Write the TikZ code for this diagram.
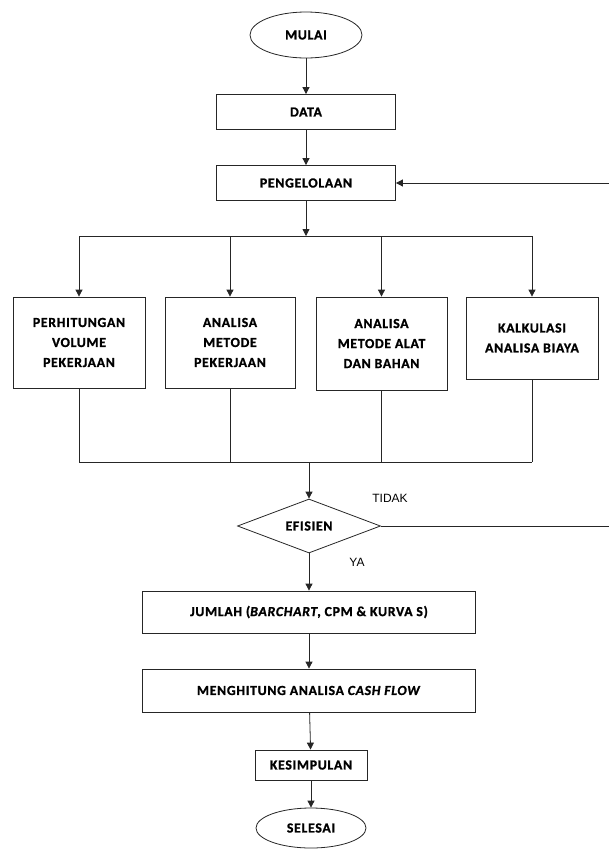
\documentclass[tikz,border=0pt]{standalone}
\usepackage{fontspec}
\setmainfont{Carlito}[LetterSpace=5, BoldFeatures={FakeBold=1.2}, BoldItalicFeatures={FakeBold=1.2}]
\newfontfamily\lblfont{Liberation Sans}
\usetikzlibrary{shapes.geometric,arrows.meta}
\begin{document}
\begin{tikzpicture}[x=1pt,y=-1pt,
  line width=0.8pt,
  every node/.style={font=\bfseries\fontsize{13.8}{20}\selectfont, text=black},
  box/.style={draw=black!85, rectangle, inner sep=0pt, align=center},
  oval/.style={draw=black!85, ellipse, inner sep=0pt},
  dec/.style={draw=black!85, diamond, aspect=2.65, inner sep=0pt, minimum width=143pt, minimum height=54pt},
  conn/.style={draw=black!85},
  arr/.style={draw=black!85, -{Triangle[length=7pt,width=7pt]}},
  lbl/.style={font=\lblfont\fontsize{12}{14}\selectfont}]
\useasboundingbox (0,0) rectangle (609,849);

\node[oval, minimum width=112pt, minimum height=46pt] (mulai) at (306,35) {MULAI};
\node[box, minimum width=179pt, minimum height=35pt] (data) at (306,112) {DATA};
\node[box, minimum width=179pt, minimum height=35pt] (peng) at (306,183) {PENGELOLAAN};

\node[box, minimum width=132pt, minimum height=91pt] (b1) at (79,342.5) {PERHITUNGAN\\VOLUME\\PEKERJAAN};
\node[box, minimum width=130pt, minimum height=91pt] (b2) at (230,342.5) {ANALISA\\METODE\\PEKERJAAN};
\node[box, minimum width=131pt, minimum height=93pt] (b3) at (381.5,343.5) {ANALISA\\METODE ALAT\\DAN BAHAN};
\node[box, minimum width=132pt, minimum height=82pt] (b4) at (532,338) {KALKULASI\\ANALISA BIAYA};

\node[dec] (efs) at (309,526) {EFISIEN};
\node[lbl] (tidak) at (390,498) {TIDAK};
\node[lbl] (ya) at (357,562) {YA};

\node[box, minimum width=333pt, minimum height=42pt] (jml) at (309,612) {JUMLAH (\textit{BARCHART}, CPM \& KURVA S)};
\node[box, minimum width=333pt, minimum height=43pt] (cash) at (309,690.5) {MENGHITUNG ANALISA \textit{CASH FLOW}};
\node[box, minimum width=112pt, minimum height=30pt] (kes) at (311,765) {KESIMPULAN};
\node[oval, minimum width=110pt, minimum height=40pt] (sel) at (311,828) {SELESAI};

\coordinate (r1) at (609,183);
\coordinate (split) at (306,236);
\coordinate (s1) at (79,236);
\coordinate (s2) at (230,236);
\coordinate (s3) at (381.5,236);
\coordinate (s4) at (532,236);
\coordinate (m1) at (79,462);
\coordinate (m2) at (230,462);
\coordinate (m3) at (381.5,462);
\coordinate (m4) at (532,462);
\coordinate (merge) at (309,462);
\coordinate (r2) at (609,526);

\draw[arr] (mulai) -- (data);
\draw[arr] (data) -- (peng);
\draw[arr] (r1) -- (peng.east);
\draw[arr] (peng.south) -- (split);
\draw[conn] (s1) -- (s4);
\draw[arr] (s1) -- (b1.north);
\draw[arr] (s2) -- (b2.north);
\draw[arr] (s3) -- (b3.north);
\draw[arr] (s4) -- (b4.north);
\draw[conn] (b1.south) -- (m1);
\draw[conn] (b2.south) -- (m2);
\draw[conn] (b3.south) -- (m3);
\draw[conn] (b4.south) -- (m4);
\draw[conn] (m1) -- (m4);
\draw[arr] (merge) -- (efs.north);
\draw[conn] (efs.east) -- (r2);
\draw[arr] (efs.south) -- (jml.north);
\draw[arr] (jml) -- (cash);
\draw[arr] (cash) -- (kes);
\draw[arr] (kes) -- (sel);
\end{tikzpicture}
\end{document}
